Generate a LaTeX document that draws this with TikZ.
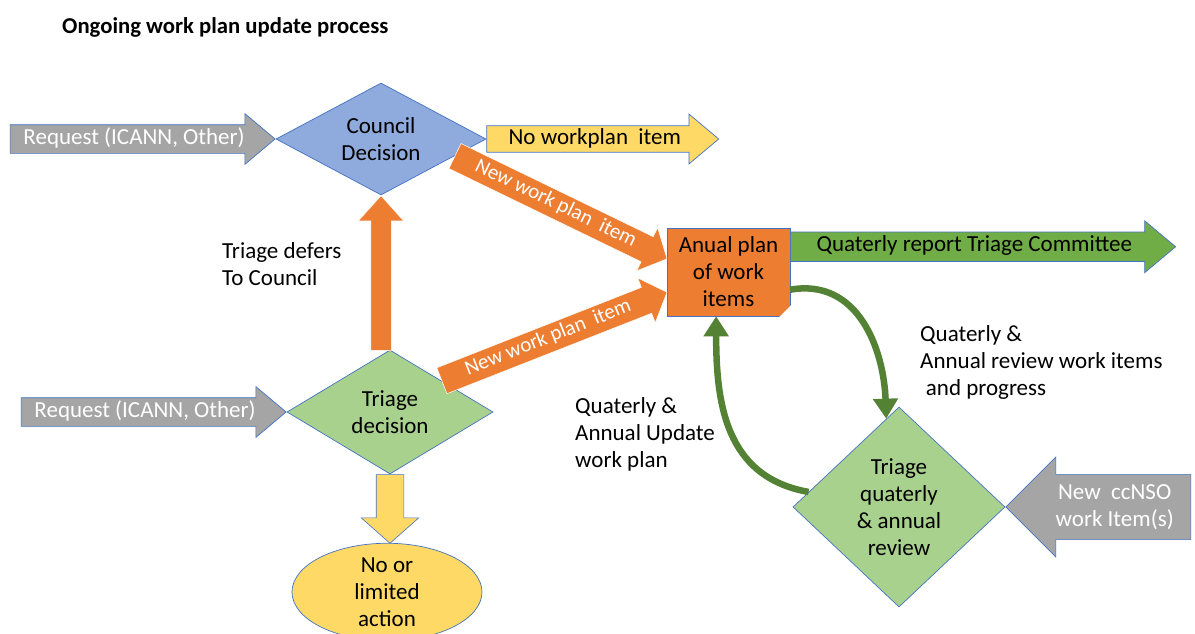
\documentclass[tikz,border=0pt]{standalone}
\usepackage{fontspec}
\setmainfont{Carlito}
\usepackage{tikz}
\usetikzlibrary{shapes.arrows, shapes.geometric, positioning, calc, arrows.meta}

\definecolor{decblue}{HTML}{8FAADC}
\definecolor{lineblue}{HTML}{4472C4}
\definecolor{reqgrey}{HTML}{A5A5A5}
\definecolor{nogold}{HTML}{FFD966}
\definecolor{planorange}{HTML}{ED7D31}
\definecolor{repgreen}{HTML}{70AD47}
\definecolor{triagegreen}{HTML}{A9D18E}
\definecolor{loopgreen}{HTML}{548235}

\tikzset{
  bodytext/.style={font=\fontsize{23}{27}\selectfont},
  decision/.style={diamond, draw=lineblue, line width=0.7pt, inner sep=0pt, aspect=1.8, align=center, bodytext},
  flatarrow/.style={single arrow, draw=lineblue, line width=0.7pt, inner xsep=3pt, inner ysep=3pt,
    text height=16pt, text depth=6pt,
    minimum width=50pt, single arrow head extend=11pt, single arrow tip angle=80, bodytext},
  diagarrow/.style={single arrow, fill=planorange, draw=white, line width=0.5pt, inner xsep=3pt, inner ysep=4pt,
    text height=14pt, text depth=5pt,
    minimum width=48pt, single arrow head extend=10pt, single arrow tip angle=95, text=white,
    font=\fontsize{21}{25}\selectfont},
  looparrow/.style={draw=loopgreen, line width=6.5pt, -{Triangle[width=24pt,length=20pt]}},
  sidetext/.style={align=left, anchor=north west, inner sep=0pt, bodytext}
}

\begin{document}
\begin{tikzpicture}[x=1pt,y=-1pt]
\useasboundingbox[fill=white] (0,0) rectangle (1195,634);

\node[anchor=west, inner sep=0pt, font=\bfseries\fontsize{22.7}{26}\selectfont] (title) at (62,27) {Ongoing work plan update process};

% decisions
\node[decision, fill=decblue, minimum width=210pt, minimum height=112pt] (council) at (381,139) {Council\\Decision};
\node[decision, fill=triagegreen, minimum width=206pt, minimum height=124pt] (triage) at (390,412) {Triage\\decision};
\node[decision, fill=triagegreen, aspect=1, minimum width=212pt, minimum height=200pt] (review) at (899,507) {Triage\\quaterly\\\& annual\\review};
\node[ellipse, fill=nogold, draw=lineblue, line width=0.7pt, inner sep=0pt, align=center, bodytext,
  minimum width=190pt, minimum height=88pt] (nolimit) at (387,592) {No or\\limited\\action};

% plan box with folded corner
\node[rectangle, fill=planorange, draw=lineblue, line width=0.5pt, align=center, bodytext,
  minimum width=123pt, minimum height=88pt, inner sep=0pt] (plan) at (728.5,272) {Anual plan\\of work\\items};
\fill[white] ($(plan.south east)+(-11,0.5)$) -- ($(plan.south east)+(0.5,0.5)$) -- ($(plan.south east)+(0.5,-11)$) -- cycle;
\fill[planorange!65!black] ($(plan.south east)+(-11,0)$) -- ($(plan.south east)+(0,-11)$) -- ($(plan.south east)+(-8,-3)$) -- cycle;

% incoming and outgoing block arrows
\node[flatarrow, fill=reqgrey, text=white, anchor=tip, minimum height=265pt] (req1) at (council.west) {Request (ICANN, Other)};
\node[flatarrow, fill=reqgrey, text=white, anchor=tip, minimum height=265pt] (req2) at (triage.west) {Request (ICANN, Other)};
\node[flatarrow, fill=nogold, anchor=tail, minimum height=232pt, inner ysep=1pt] (noitem) at (council.east) {No workplan\ \ item};
\node[flatarrow, fill=repgreen, anchor=tail, minimum height=385pt, minimum width=52pt] (report) at ($(plan.north east)+(0,19)$) {Quaterly report Triage Committee};
\node[flatarrow, fill=reqgrey, text=white, anchor=tip, shape border rotate=180, align=center, text height={}, text depth={},
  inner ysep=9pt, minimum height=185pt, minimum width=100pt, single arrow head extend=17pt, single arrow tip angle=90] (ccnso) at (review.east) {New\ \ ccNSO\\work Item(s)};

% triage defers to council, no action
\path let \p1=($(council.south)-(triage.north)$), \n1={veclen(\x1,\y1)} in
  node[single arrow, fill=planorange, draw=white, line width=0.5pt, inner xsep=0pt, inner ysep=10pt, rotate=90, anchor=tip,
  minimum height=\n1, minimum width=45pt, single arrow head extend=12.5pt, single arrow tip angle=84] (defer) at (council.south) {};
\path let \p1=($(triage.south)-(nolimit.north)$), \n1={veclen(\x1,\y1)} in
  node[single arrow, fill=nogold, draw=lineblue, line width=0.6pt, inner xsep=0pt, inner ysep=13.5pt, rotate=-90, anchor=tail,
  minimum height=\n1, minimum width=57pt, single arrow head extend=15pt, single arrow tip angle=97] (noact) at (triage.south) {};

% new work plan items
\coordinate (s1) at ($(council.east)!0.3!(council.south)$);
\coordinate (e1) at ($(plan.north west)!0.35!(plan.south west)$);
\coordinate (s2) at ($(triage.north)!0.5!(triage.east)$);
\coordinate (e2) at ($(plan.north west)!0.73!(plan.south west)$);
\path let \p1=($(e1)-(s1)$), \n1={veclen(\x1,\y1)}, \n2={atan2(\y1,\x1)} in
  node[diagarrow, rotate=\n2, anchor=tail, minimum height=\n1] (new1) at (s1) {New work plan\ \ item};
\path let \p1=($(e2)-(s2)$), \n1={veclen(\x1,\y1)}, \n2={atan2(\y1,\x1)} in
  node[diagarrow, rotate=\n2, anchor=tail, minimum height=\n1] (new2) at (s2) {New work plan\ \ item};

% review loop
\coordinate (l1s) at ($(plan.south east)!0.3!(plan.north east)$);
\coordinate (l1e) at ($(review.north)!0.12!(review.west)$);
\coordinate (l2s) at ($(review.west)!0.15!(review.north)$);
\coordinate (l2e) at ($(plan.south west)!0.4!(plan.south east)$);
\draw[looparrow] (l1s) to[out=10, in=92, looseness=1.1] (l1e);
\draw[looparrow] (l2s) to[out=170, in=270, looseness=1.1] (l2e);

% notes
\node[sidetext] (defernote) at (222,242) {Triage defers\\To Council};
\node[sidetext] (reviewnote) at (920,325) {Quaterly \&\\Annual review work items\\\hspace{0.25em}and progress};
\node[sidetext] (updatenote) at (575,397) {Quaterly \&\\Annual Update\\work plan};
\end{tikzpicture}
\end{document}
